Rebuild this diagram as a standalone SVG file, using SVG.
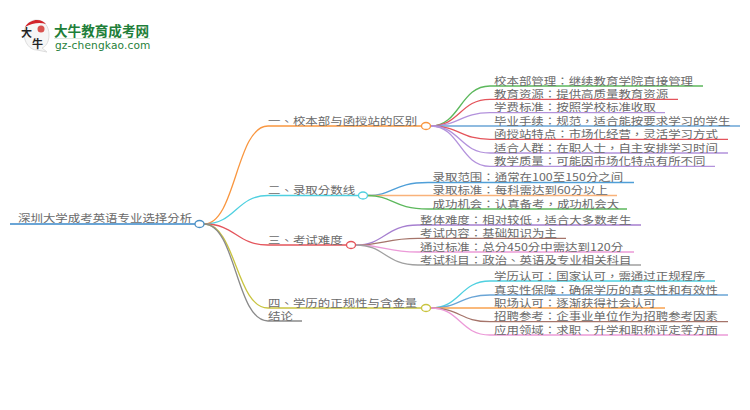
<svg xmlns="http://www.w3.org/2000/svg" width="750" height="410" viewBox="0 0 750 410">
<style>
text{font-family:"Noto Sans CJK TC","Noto Sans CJK SC","Liberation Sans",sans-serif;font-size:12.45px;fill:#6a6a6a}
path,line{fill:none}
.w{stroke-width:1.3}
ellipse{fill:#fff;stroke-width:1.3}
</style>
<rect width="750" height="410" fill="#fff"/>
<g id="logo">
<path d="M24 33C24 25 31 20 36 20C44 20 49 26 49 35C49 43 45 47 42 48L47 52L37 50C30 50 24 43 24 33Z" style="fill:#f6f6f6;stroke:#ddd"/>
<path d="M25 27C28 22 33 20 37 20C41 20 44 22 46 24C40 22 32 23 25 27Z" style="fill:#d2232a"/>
<circle cx="41" cy="29" r="3.500" style="fill:#d9534f"/>
<text x="21" y="37" style="font-size:11px;fill:#222;font-weight:700">大</text>
<text x="32" y="48" style="font-size:11px;fill:#222;font-weight:700">牛</text>
<text x="54" y="35.500" style="font-size:13.600px;fill:#1f7f3a;font-weight:700">大牛教育成考网</text>
<line x1="54" y1="38.500" x2="150" y2="38.500" style="stroke:#dde8df"/>
<text x="55" y="49" style="font-size:10.600px;fill:#1f7f3a;font-family:'DejaVu Sans',sans-serif;letter-spacing:.15px">gz-chengkao.com</text>
</g>
<g id="connectors">
<line x1="10" y1="224" x2="195" y2="224" stroke="#6aa5d6" stroke-width="1.800"/>
<path class="w" stroke="#f9963f" d="M204 224C236 224 236 126 268 126H421"/>
<path class="w" stroke="#4fd0e0" d="M204 224C236 224 236 195.500 268 195.500H358"/>
<path class="w" stroke="#e4545b" d="M204 224C236 224 236 245 268 245H346"/>
<path class="w" stroke="#c9c43f" d="M204 224C236 224 236 308 268 308H421"/>
<path class="w" stroke="#8a8a8a" d="M204 224C236 224 236 321 268 321H302"/>

<path class="w" stroke="#5cb85c" d="M431 126C460 126 460 86 490 86H703"/>
<path class="w" stroke="#e4545b" d="M431 126C460 126 460 99.300 490 99.300H678"/>
<path class="w" stroke="#b392dc" d="M431 126C460 126 460 112.700 490 112.700H665"/>
<path class="w" stroke="#6aa5d6" d="M431 126H740"/>
<path class="w" stroke="#e4545b" d="M431 126C460 126 460 139.300 490 139.300H728"/>
<path class="w" stroke="#b392dc" d="M431 126C460 126 460 153 490 153H728"/>
<path class="w" stroke="#b392dc" d="M431 126C460 126 460 166.300 490 166.300H715"/>

<path class="w" stroke="#4f9fd8" d="M368 195.500C393 195.500 393 182.500 428 182.500H634"/>
<path class="w" stroke="#f9b27a" d="M368 195.500H617"/>
<path class="w" stroke="#5cb85c" d="M368 195.500C393 195.500 393 209 428 209H627"/>

<path class="w" stroke="#a67fd0" d="M356 245C385 245 385 225 418 225H641"/>
<path class="w" stroke="#a5746a" d="M356 245C385 245 385 238.300 418 238.300H566"/>
<path class="w" stroke="#ec9ad8" d="M356 245C385 245 385 252 418 252H634"/>
<path class="w" stroke="#a0a0a0" d="M356 245C385 245 385 265 418 265H641"/>

<path class="w" stroke="#4fd0e0" d="M431 308C460 308 460 281 490 281H715"/>
<path class="w" stroke="#6aa5d6" d="M431 308C460 308 460 295 490 295H728"/>
<path class="w" stroke="#f9a24f" d="M431 308H665"/>
<path class="w" stroke="#a5746a" d="M431 308C460 308 460 321.700 490 321.700H728"/>
<path class="w" stroke="#ec9ad8" d="M431 308C460 308 460 335 490 335H728"/>
</g>
<g id="root"><ellipse cx="199.500" cy="224" rx="4.500" ry="3.500" stroke="#4a8fc4"/><text transform="matrix(1 0 0 .8 18 222)">深圳大学成考英语专业选择分析</text></g>
<g id="b1"><ellipse cx="426" cy="126" rx="4.500" ry="3.500" stroke="#f9963f"/><text transform="matrix(1 0 0 .8 268 124.500)">一、校本部与函授站的区别</text></g>
<g id="b2"><ellipse cx="363" cy="195.500" rx="4.500" ry="3.500" stroke="#4fd0e0"/><text transform="matrix(1 0 0 .8 268 194)">二、录取分数线</text></g>
<g id="b3"><ellipse cx="351" cy="245" rx="4.500" ry="3.500" stroke="#e4545b"/><text transform="matrix(1 0 0 .8 268 243.500)">三、考试难度</text></g>
<g id="b4"><ellipse cx="426" cy="308" rx="4.500" ry="3.500" stroke="#c9c43f"/><text transform="matrix(1 0 0 .8 268 306.500)">四、学历的正规性与含金量</text></g>
<g id="b5"><text transform="matrix(1 0 0 .8 268 319.500)">结论</text></g>
<g id="l11"><text transform="matrix(1 0 0 .8 494 84.500)">校本部管理：继续教育学院直接管理</text></g>
<g id="l12"><text transform="matrix(1 0 0 .8 494 98)">教育资源：提供高质量教育资源</text></g>
<g id="l13"><text transform="matrix(1 0 0 .8 494 111)">学费标准：按照学校标准收取</text></g>
<g id="l14"><text transform="matrix(1 0 0 .8 494 124.500)">毕业手续：规范，适合能按要求学习的学生</text></g>
<g id="l15"><text transform="matrix(1 0 0 .8 494 138)">函授站特点：市场化经营，灵活学习方式</text></g>
<g id="l16"><text transform="matrix(1 0 0 .8 494 151.500)">适合人群：在职人士，自主安排学习时间</text></g>
<g id="l17"><text transform="matrix(1 0 0 .8 494 165)">教学质量：可能因市场化特点有所不同</text></g>
<g id="l21"><text transform="matrix(1 0 0 .8 432.500 181)">录取范围：通常在100至150分之间</text></g>
<g id="l22"><text transform="matrix(1 0 0 .8 432.500 194)">录取标准：每科需达到60分以上</text></g>
<g id="l23"><text transform="matrix(1 0 0 .8 432.500 207.500)">成功机会：认真备考，成功机会大</text></g>
<g id="l31"><text transform="matrix(1 0 0 .8 420 223.500)">整体难度：相对较低，适合大多数考生</text></g>
<g id="l32"><text transform="matrix(1 0 0 .8 420 237)">考试内容：基础知识为主</text></g>
<g id="l33"><text transform="matrix(1 0 0 .8 420 250.500)">通过标准：总分450分中需达到120分</text></g>
<g id="l34"><text transform="matrix(1 0 0 .8 420 263.500)">考试科目：政治、英语及专业相关科目</text></g>
<g id="l41"><text transform="matrix(1 0 0 .8 494 279.500)">学历认可：国家认可，需通过正规程序</text></g>
<g id="l42"><text transform="matrix(1 0 0 .8 494 293.500)">真实性保障：确保学历的真实性和有效性</text></g>
<g id="l43"><text transform="matrix(1 0 0 .8 494 306.500)">职场认可：逐渐获得社会认可</text></g>
<g id="l44"><text transform="matrix(1 0 0 .8 494 320)">招聘参考：企事业单位作为招聘参考因素</text></g>
<g id="l45"><text transform="matrix(1 0 0 .8 494 333.500)">应用领域：求职、升学和职称评定等方面</text></g>
</svg>
